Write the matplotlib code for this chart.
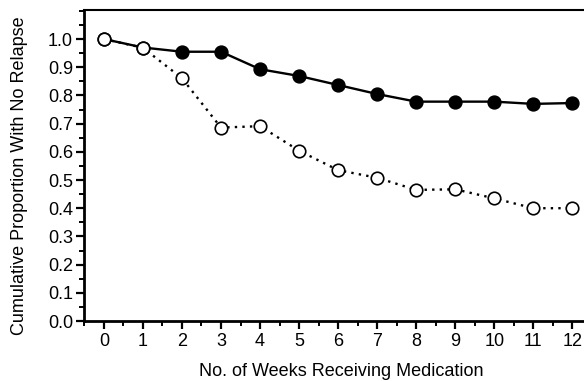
import matplotlib.pyplot as plt
from matplotlib.ticker import MultipleLocator
import numpy as np

plt.rcParams['font.family'] = ['Liberation Sans', 'DejaVu Sans']

weeks = np.arange(0, 13)
filled = [1.0, 0.97, 0.955, 0.955, 0.893, 0.869, 0.837, 0.805, 0.778, 0.778, 0.778, 0.770, 0.773]
opened = [1.0, 0.969, 0.861, 0.686, 0.691, 0.604, 0.535, 0.508, 0.465, 0.467, 0.435, 0.400, 0.400]
yticks = [0.0, 0.1, 0.2, 0.3, 0.4, 0.5, 0.6, 0.7, 0.8, 0.9, 1.0]

fig = plt.figure(figsize=(5.84, 3.81), dpi=100)
ax = fig.add_axes([84/584, 1 - 321/381, 1 - 84/584, (321 - 10)/381])

ax.plot(weeks, filled, '-o', color='black', lw=1.7, ms=9.3,
        markerfacecolor='black', markeredgecolor='black', zorder=3)
ax.plot(weeks, opened, 'o', color='black', lw=1.7, ms=9, linestyle=(0, (1, 2.2)),
        markerfacecolor='white', markeredgecolor='black', markeredgewidth=1.2, zorder=4)

ax.set_xlim(-0.51, 12.3)
ax.set_ylim(0, 1.103)
ax.set_xticks(weeks)
ax.set_yticks(yticks)
ax.set_yticklabels([f"{v:.1f}" for v in yticks])
ax.xaxis.set_minor_locator(MultipleLocator(0.5))
ax.yaxis.set_minor_locator(MultipleLocator(0.05))

ax.spines['right'].set_visible(False)
ax.spines['left'].set_linewidth(2)
ax.spines['bottom'].set_linewidth(2)
ax.spines['top'].set_linewidth(1.5)
ax.tick_params(which='major', direction='out', length=5.5, width=1.6, labelsize=13)
ax.tick_params(which='minor', direction='out', length=3.5, width=1.4)
ax.tick_params(axis='y', which='major', pad=2.5)
ax.tick_params(axis='x', which='major', pad=3)

ax.set_xlabel('No. of Weeks Receiving Medication', fontsize=13)
ax.set_ylabel('Cumulative Proportion With No Relapse', fontsize=13)
ax.xaxis.set_label_coords(0.514, -0.135)
ax.yaxis.set_label_coords(-0.112, 0.466)

fig.savefig('out.png', dpi=100)
